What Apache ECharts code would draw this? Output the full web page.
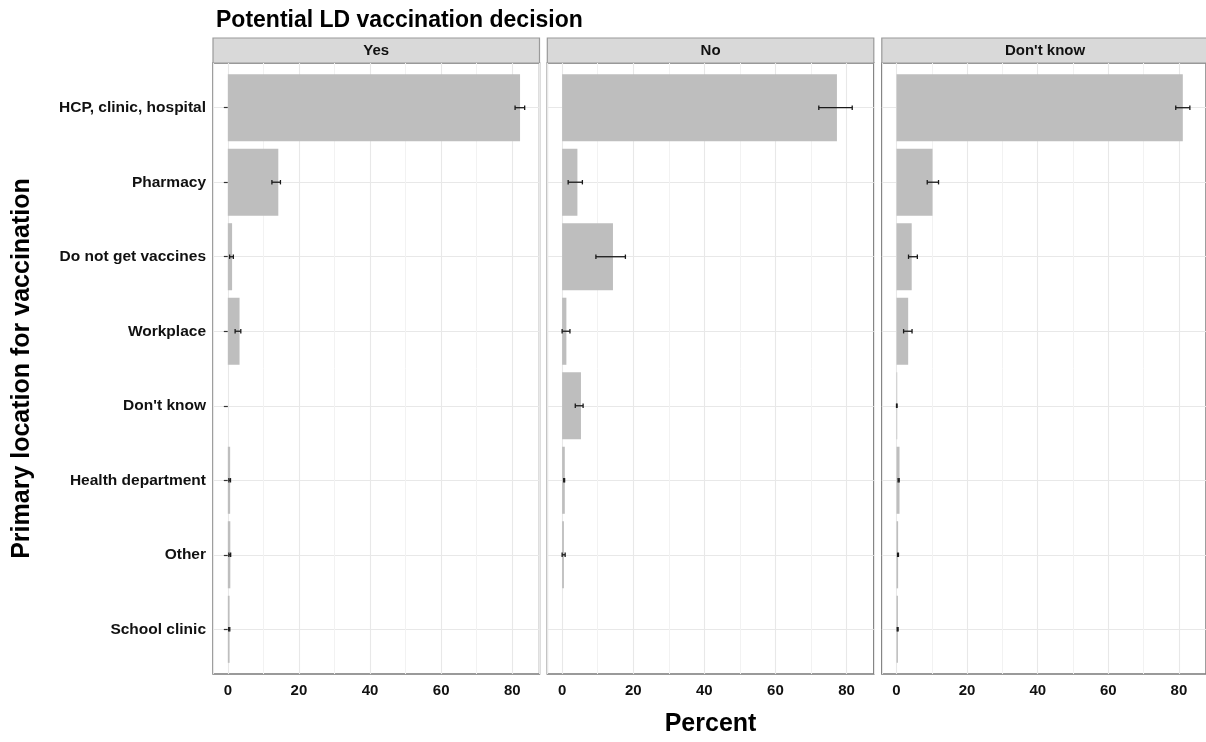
<!DOCTYPE html>
<html>
<head>
<meta charset="utf-8">
<script src="https://cdn.jsdelivr.net/npm/echarts@6/dist/echarts.min.js"></script>
<style>
  html, body { margin: 0; padding: 0; background: #fff; }
  #chart { width: 1206px; height: 742px; }
</style>
</head>
<body>
<div id="chart"></div>
<script>
const categories = ['HCP, clinic, hospital', 'Pharmacy', 'Do not get vaccines', 'Workplace',
  "Don't know", 'Health department', 'Other', 'School clinic']
const panels = ['Yes', 'No', "Don't know"]

// percent, and lower / upper error bar ends, per panel
const yesPct = [82.2, 14.2, 1.2, 3.3, null, 0.65, 0.7, 0.5]
const yesLow = [80.8, 12.4, 0.5, 2.05, null, 0.3, 0.3, 0.25]
const yesHigh = [83.5, 14.8, 1.55, 3.65, null, 0.75, 0.8, 0.55]

const noPct = [77.3, 4.3, 14.3, 1.2, 5.3, 0.75, 0.5, null]
const noLow = [72.2, 1.7, 9.5, 0.0, 3.7, 0.45, 0.0, null]
const noHigh = [81.6, 5.7, 17.8, 2.2, 5.9, 0.7, 0.85, null]

const dkPct = [81.1, 10.2, 4.3, 3.3, 0.2, 0.85, 0.45, 0.4]
const dkLow = [79.1, 8.7, 3.4, 2.0, 0.0, 0.45, 0.3, 0.2]
const dkHigh = [83.1, 11.9, 5.9, 4.4, 0.15, 0.75, 0.55, 0.45]

const pctData = [yesPct, noPct, dkPct]
const lowData = [yesLow, noLow, dkLow]
const highData = [yesHigh, noHigh, dkHigh]

const xMin = -4.17
const xMax = 87.67

const font = "'Liberation Sans', Arial, sans-serif"
const panelLeft = [213, 547.3, 881.8]
const panelWidth = 326.5
const panelTop = 63
const panelHeight = 611
const band = panelHeight / 8.2

const grids = []
const xAxes = []
const yAxes = []
const series = []
const graphics = []

panels.forEach((name, i) => {
  // outer grid: panel box, vertical grid lines, x labels
  grids.push({
    left: panelLeft[i], top: panelTop, width: panelWidth, height: panelHeight,
    show: true, borderColor: '#7a7a7a', borderWidth: 1.5, backgroundColor: 'transparent'
  })
  // inner grid: category bands (ggplot discrete expand 0.6)
  grids.push({
    left: panelLeft[i], top: panelTop + band * 0.1, width: panelWidth, height: band * 8
  })

  xAxes.push({
    type: 'value', gridIndex: i * 2, min: xMin, max: xMax,
    axisLine: { show: false },
    axisTick: { show: false },
    axisLabel: {
      show: true, showMinLabel: false, showMaxLabel: false, margin: 9,
      fontFamily: font, fontSize: 15, fontWeight: 'bold', color: '#111'
    },
    splitLine: { show: true, lineStyle: { color: '#e8e8e8', width: 1.1 } },
    minorTick: { show: false, splitNumber: 2 },
    minorSplitLine: { show: true, lineStyle: { color: '#f2f2f2', width: 1 } },
    name: i === 1 ? 'Percent' : '',
    nameLocation: 'middle', nameGap: 38,
    nameTextStyle: { fontFamily: font, fontSize: 25, fontWeight: 'bold', color: '#000' }
  })
  xAxes.push({
    type: 'value', gridIndex: i * 2 + 1, min: xMin, max: xMax, show: false
  })

  yAxes.push({ type: 'value', gridIndex: i * 2, min: 0, max: 1, show: false })
  yAxes.push({
    type: 'category', gridIndex: i * 2 + 1, data: categories, inverse: true,
    axisLine: { show: false },
    axisTick: { show: i === 0, alignWithLabel: true, length: 4, lineStyle: { color: '#333', width: 1.2 } },
    axisLabel: {
      show: i === 0, margin: 7,
      fontFamily: font, fontSize: 15.5, fontWeight: 'bold', color: '#111'
    },
    splitLine: { show: true, alignWithLabel: true, lineStyle: { color: '#e8e8e8', width: 1.1 } },
    name: i === 0 ? 'Primary location for vaccination' : '',
    nameLocation: 'middle', nameGap: 178, nameRotate: 90,
    nameTextStyle: { fontFamily: font, fontSize: 25, fontWeight: 'bold', color: '#000' }
  })

  series.push({
    type: 'bar', name: name,
    xAxisIndex: i * 2 + 1, yAxisIndex: i * 2 + 1,
    data: pctData[i], barWidth: '90%',
    itemStyle: { color: '#bebebe' },
    silent: true
  })

  const errData = []
  pctData[i].forEach((v, k) => {
    if (v !== null) errData.push([lowData[i][k], highData[i][k], k])
  })
  series.push({
    type: 'custom', name: name + ' CI',
    xAxisIndex: i * 2 + 1, yAxisIndex: i * 2 + 1,
    encode: { x: [0, 1], y: 2 },
    data: errData,
    z: 5,
    renderItem: (params, api) => {
      const y = api.value(2)
      const a = api.coord([api.value(0), y])
      const b = api.coord([api.value(1), y])
      const h = 2.2
      const st = { stroke: '#1a1a1a', lineWidth: 1.3 }
      return {
        type: 'group',
        children: [
          { type: 'line', shape: { x1: a[0], y1: a[1], x2: b[0], y2: b[1] }, style: st },
          { type: 'line', shape: { x1: a[0], y1: a[1] - h, x2: a[0], y2: a[1] + h }, style: st },
          { type: 'line', shape: { x1: b[0], y1: b[1] - h, x2: b[0], y2: b[1] + h }, style: st }
        ]
      }
    }
  })

  // facet strip
  graphics.push({
    type: 'group',
    children: [
      {
        type: 'rect',
        shape: { x: panelLeft[i], y: 38, width: panelWidth, height: 25 },
        style: { fill: '#d9d9d9', stroke: '#9a9a9a', lineWidth: 1.2 }
      },
      {
        type: 'text',
        x: panelLeft[i] + panelWidth / 2, y: 50.5,
        style: {
          text: name, align: 'center', verticalAlign: 'middle',
          font: 'bold 15px ' + font, fill: '#111'
        }
      }
    ]
  })
})

const chart = echarts.init(document.getElementById('chart'), null, { renderer: 'canvas' })
chart.setOption({
  animation: false,
  title: {
    text: 'Potential LD vaccination decision',
    left: 211, top: 4,
    textStyle: { fontFamily: font, fontSize: 23, fontWeight: 'bold', color: '#000' }
  },
  grid: grids,
  xAxis: xAxes,
  yAxis: yAxes,
  series: series,
  graphic: graphics
})
</script>
</body>
</html>
